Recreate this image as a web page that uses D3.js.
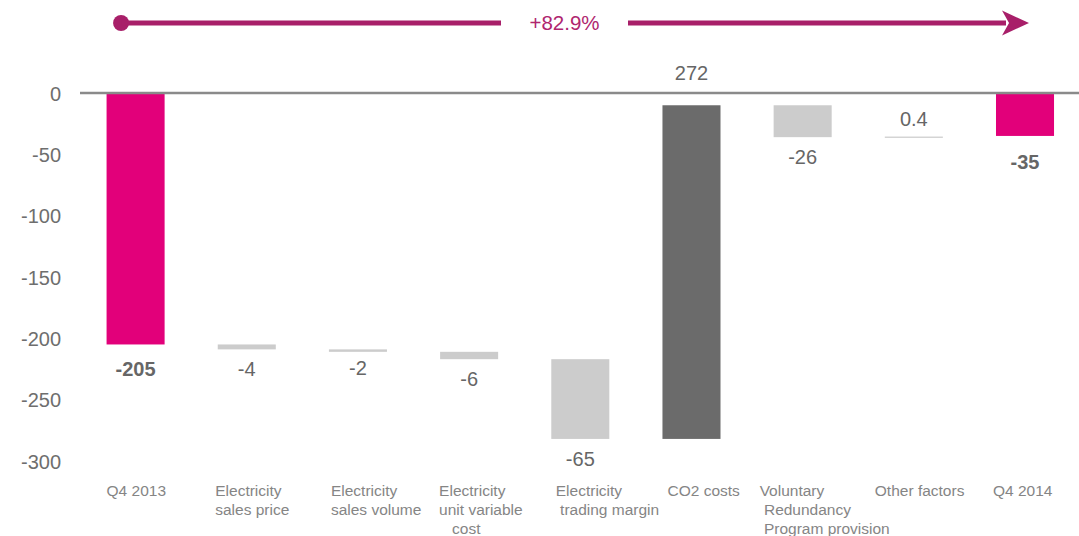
<!DOCTYPE html>
<html>
<head>
<meta charset="utf-8">
<script src="https://cdn.jsdelivr.net/npm/d3@7"></script>
<style>
  html, body { margin: 0; padding: 0; background: #ffffff; }
  svg { display: block; font-family: "Liberation Sans", Arial, sans-serif; }
  text { white-space: pre; }
</style>
</head>
<body>
<svg id="chart" width="1079" height="536"></svg>
<script>
// ---- data ----
const categories = ["Q4 2013", "Electricity sales price", "Electricity sales volume",
  "Electricity unit variable cost", "Electricity trading margin", "CO2 costs",
  "Voluntary Redundancy Program provision", "Other factors", "Q4 2014"];
const categoryLines = [
  ["Q4 2013"],
  ["Electricity", "sales price"],
  ["Electricity", "sales volume"],
  ["Electricity", "unit variable", "   cost"],
  ["Electricity", " trading margin"],
  ["CO2 costs"],
  ["Voluntary", " Redundancy", " Program provision"],
  ["Other factors"],
  ["Q4 2014"]
];
const values = [-205, -4, -2, -6, -65, 272, -26, 0.4, -35];
const kinds = ["total", "delta", "delta", "delta", "delta", "major", "delta", "delta", "total"];
const valueLabels = ["-205", "-4", "-2", "-6", "-65", "272", "-26", "0.4", "-35"];
const yTicks = [0, -50, -100, -150, -200, -250, -300];
const yTickLabels = ["0", "-50", "-100", "-150", "-200", "-250", "-300"];
const changeLabel = "+82.9%";

// ---- build waterfall ----
let running = 0;
const bars = categories.map((c, i) => {
  let start, end;
  if (kinds[i] === "total") { start = 0; end = values[i]; running = values[i]; }
  else { start = running; end = running + values[i]; running = end; }
  return { cat: c, lines: categoryLines[i], value: values[i], kind: kinds[i],
           label: valueLabels[i], lo: Math.min(start, end), hi: Math.max(start, end) };
});

const svg = d3.select("#chart");
const x = d3.scaleBand().domain(categories).range([80, 1080.6]).paddingInner(0.478).paddingOuter(0.239);
const y = d3.scaleLinear().domain([-300, 0]).range([461, 93]);

const color = { total: "#e2007a", delta: "#cccccc", major: "#6b6b6b" };

// y axis tick labels
const yAxis = d3.axisLeft(y).tickValues(yTicks).tickSize(0).tickPadding(0)
  .tickFormat((d, i) => yTickLabels[i]);
const gy = svg.append("g").attr("transform", "translate(61,0)").call(yAxis);
gy.select(".domain").remove();
gy.selectAll("text").attr("font-size", 20).attr("fill", "#6e6e6e")
  .attr("font-family", "Liberation Sans, Arial, sans-serif").attr("dy", "0.35em");

// bars
svg.append("g").selectAll("rect").data(bars).join("rect")
  .attr("x", d => x(d.cat))
  .attr("width", x.bandwidth())
  .attr("y", d => y(d.hi))
  .attr("height", d => Math.max(1, y(d.lo) - y(d.hi)))
  .attr("fill", d => d.value > 0 && d.value < 1 ? "#bfbfbf" : color[d.kind]);

// zero line
svg.append("line").attr("x1", 80).attr("x2", 1079).attr("y1", y(0)).attr("y2", y(0))
  .attr("stroke", "#8a8a8a").attr("stroke-width", 2.5);

// value labels
const labelNudge = { "CO2 costs": -14, "Electricity sales volume": -4, "Q4 2013": 5, "Q4 2014": 6 };
svg.append("g").selectAll("text").data(bars).join("text")
  .attr("x", d => x(d.cat) + x.bandwidth() / 2)
  .attr("y", d => (d.value >= 0 ? y(d.hi) - 18 : y(d.lo) + 20) + (labelNudge[d.cat] || 0))
  .attr("dy", "0.35em")
  .attr("text-anchor", "middle")
  .attr("font-size", 20)
  .attr("font-weight", d => d.kind === "total" ? "bold" : "normal")
  .attr("fill", "#666666")
  .text(d => d.label);

// category labels
const catNudge = { "Q4 2013": 0, "Electricity sales price": -2.5, "Electricity sales volume": 2,
  "Electricity unit variable cost": -1, "Electricity trading margin": 4.5, "CO2 costs": 5,
  "Voluntary Redundancy Program provision": -14, "Other factors": -10, "Q4 2014": -3 };
const cat = svg.append("g").selectAll("text").data(bars).join("text")
  .attr("x", d => x(d.cat) + (catNudge[d.cat] || 0))
  .attr("y", 496)
  .attr("font-size", 15.5)
  .attr("fill", "#858585");
cat.selectAll("tspan").data(d => d.lines.map(l => ({ l, x: x(d.cat) + (catNudge[d.cat] || 0) }))).join("tspan")
  .attr("x", t => t.x)
  .attr("dy", (t, i) => i === 0 ? 0 : 19)
  .text(t => t.l);

// top change arrow
const arrowY = 23;
const arrowColor = "#a81f69";
const g0 = x(categories[0]) + x.bandwidth() / 2;
const g1 = x(categories[categories.length - 1]) + x.bandwidth() / 2;
svg.append("circle").attr("cx", g0 - 14.5).attr("cy", arrowY).attr("r", 8).attr("fill", arrowColor);
svg.append("line").attr("x1", g0 - 14.5).attr("x2", 501).attr("y1", arrowY).attr("y2", arrowY)
  .attr("stroke", arrowColor).attr("stroke-width", 5);
svg.append("line").attr("x1", 628).attr("x2", 1006).attr("y1", arrowY).attr("y2", arrowY)
  .attr("stroke", arrowColor).attr("stroke-width", 5);
svg.append("path")
  .attr("d", `M${g1 + 4},${arrowY} L${g1 - 23},${arrowY - 12.5} L${g1 - 16},${arrowY} L${g1 - 23},${arrowY + 12.5} Z`)
  .attr("fill", arrowColor);
svg.append("text").attr("x", 564.5).attr("y", arrowY).attr("dy", "0.35em")
  .attr("text-anchor", "middle").attr("font-size", 20.5).attr("fill", "#b0266f")
  .text(changeLabel);
</script>
</body>
</html>
